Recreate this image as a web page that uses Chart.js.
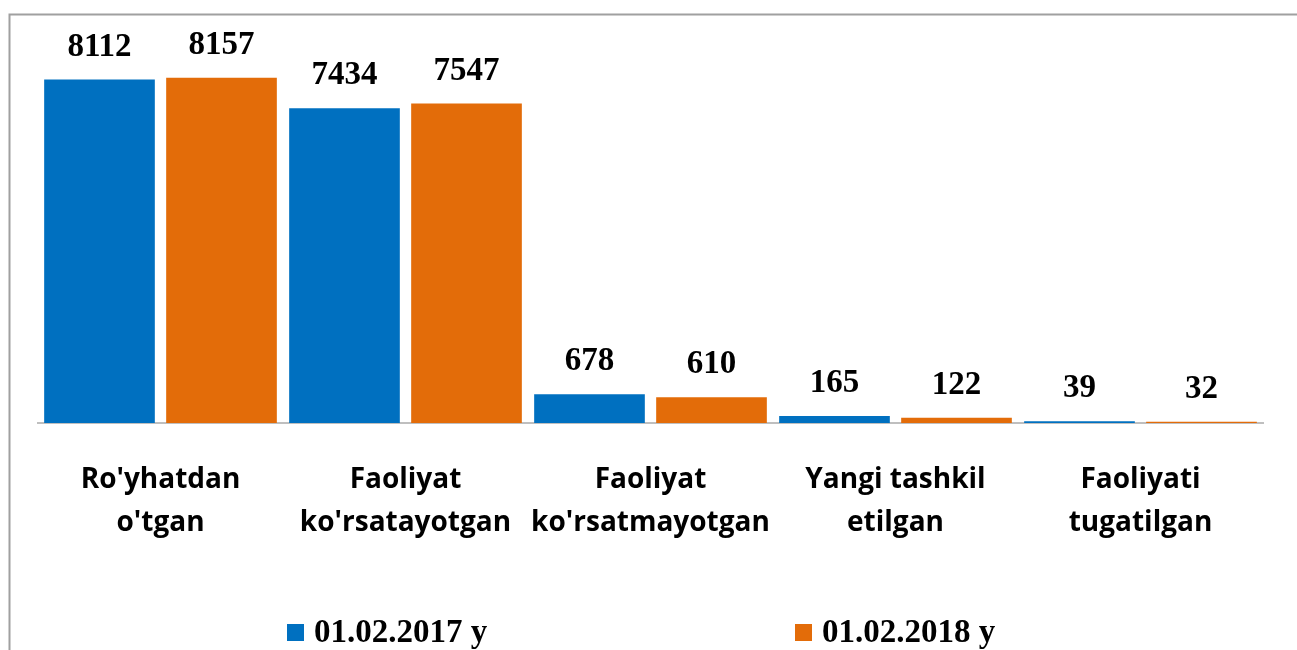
<!DOCTYPE html>
<html>
<head>
<meta charset="utf-8">
<script src="https://cdn.jsdelivr.net/npm/chart.js@4"></script>
<style>
  body { margin: 0; background: #fff; }
  #wrap { position: absolute; left: 0; top: 0; width: 1297px; height: 650px; }
</style>
</head>
<body>
<div id="wrap"><canvas id="chart" width="1297" height="650"></canvas></div>
<script>
const categories = [
  ["Ro'yhatdan", "o'tgan"],
  ["Faoliyat", "ko'rsatayotgan"],
  ["Faoliyat", "ko'rsatmayotgan"],
  ["Yangi tashkil", "etilgan"],
  ["Faoliyati", "tugatilgan"]
];
const seriesNames = ['01.02.2017 y', '01.02.2018 y'];
const values2017 = [8112, 7434, 678, 165, 39];
const values2018 = [8157, 7547, 610, 122, 32];
const colors = ['#0070C0', '#E36C09'];

// frame lines around the chart
const framePlugin = {
  id: 'frame',
  beforeDraw(chart) {
    const ctx = chart.ctx;
    ctx.save();
    ctx.strokeStyle = '#a0a0a0';
    ctx.lineWidth = 2;
    ctx.beginPath();
    ctx.moveTo(1297, 14.5);
    ctx.lineTo(9.5, 14.5);
    ctx.lineTo(9.5, 650);
    ctx.stroke();
    ctx.restore();
  }
};

// numbers above the bars
const valueLabels = {
  id: 'valueLabels',
  afterDatasetsDraw(chart) {
    const ctx = chart.ctx;
    ctx.save();
    ctx.font = 'bold 33px "Liberation Serif"';
    ctx.fillStyle = '#000';
    ctx.textAlign = 'center';
    ctx.textBaseline = 'alphabetic';
    chart.data.datasets.forEach((ds, i) => {
      chart.getDatasetMeta(i).data.forEach((bar, j) => {
        ctx.fillText(ds.data[j], bar.x, bar.y - 24);
      });
    });
    ctx.restore();
  }
};

// legend drawn at the bottom
const legendPlugin = {
  id: 'bottomLegend',
  afterDraw(chart) {
    const ctx = chart.ctx;
    const xs = [287, 795];
    ctx.save();
    ctx.font = 'bold 33px "Liberation Serif"';
    ctx.textBaseline = 'middle';
    ctx.textAlign = 'left';
    chart.data.datasets.forEach((ds, i) => {
      ctx.fillStyle = ds.backgroundColor;
      ctx.fillRect(xs[i], 624, 17, 17);
      ctx.fillStyle = '#000';
      ctx.fillText(ds.label, xs[i] + 27, 633);
    });
    ctx.restore();
  }
};

new Chart(document.getElementById('chart'), {
  type: 'bar',
  data: {
    labels: categories,
    datasets: [
      { label: seriesNames[0], data: values2017, backgroundColor: colors[0] },
      { label: seriesNames[1], data: values2018, backgroundColor: colors[1] }
    ]
  },
  options: {
    responsive: false,
    animation: false,
    categoryPercentage: 0.996,
    barPercentage: 0.907,
    layout: { padding: { left: 38, right: 34, top: 42, bottom: 0 } },
    plugins: {
      legend: { display: false },
      tooltip: { enabled: false }
    },
    scales: {
      x: {
        grid: { display: false, drawTicks: false },
        border: { display: true, color: '#bfbfbf', width: 2 },
        ticks: {
          color: '#000',
          padding: 36,
          font: { family: '"Open Sans"', size: 28, weight: 'bold', lineHeight: 1.53 }
        },
        afterFit(scale) { scale.height = 227; }
      },
      y: {
        display: false,
        min: 0,
        max: 9000
      }
    }
  },
  plugins: [framePlugin, valueLabels, legendPlugin]
});
</script>
</body>
</html>
